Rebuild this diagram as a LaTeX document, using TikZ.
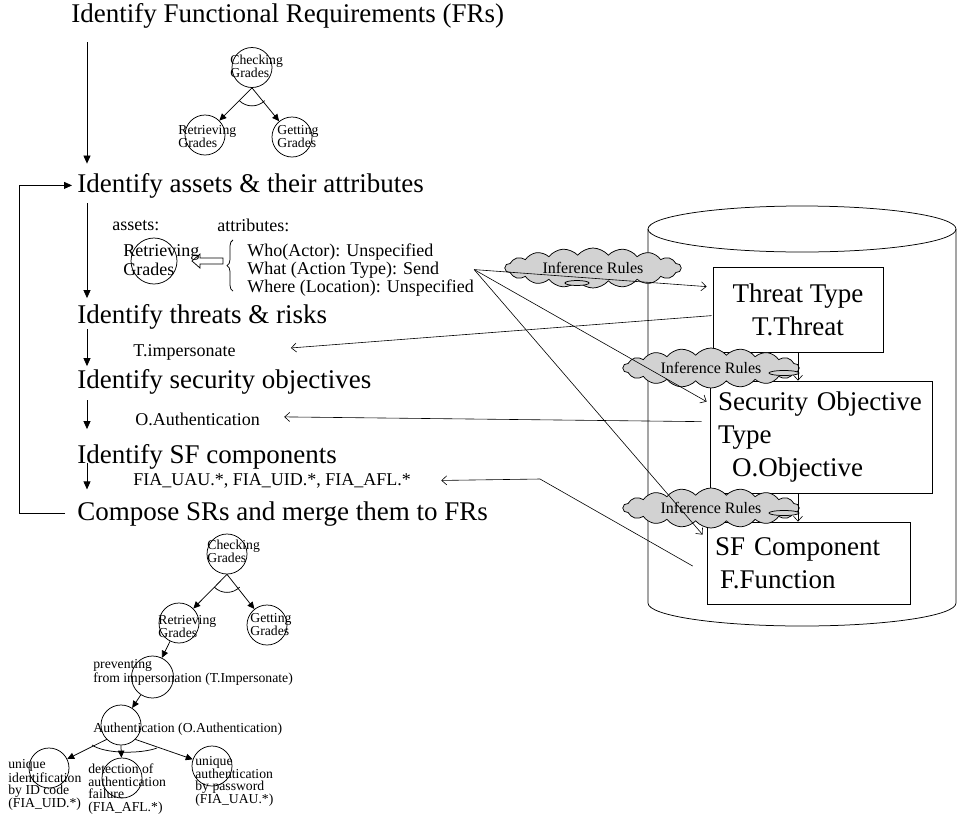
\documentclass[tikz,border=0pt]{standalone}
\usepackage{fontspec}
\setmainfont{Liberation Serif}
\usetikzlibrary{arrows.meta, calc, shapes.symbols, decorations.pathreplacing}

\begin{document}
\begin{tikzpicture}[
  x=1pt, y=-1pt, line width=0.75pt,
  stage/.style={anchor=base west, inner sep=0pt, font=\fontsize{27}{33}\selectfont},
  note/.style={anchor=base west, inner sep=0pt, align=left, font=\fontsize{18}{18}\selectfont},
  lbl/.style={anchor=base west, inner sep=0pt, align=left, font=\fontsize{13.7}{12.5}\selectfont},
  goal/.style={circle, draw, minimum size=40pt, inner sep=0pt},
  kind/.style={draw, fill=white, inner xsep=8pt, inner ysep=0pt, font=\fontsize{27}{33}\selectfont},
  rule/.style={cloud, cloud puffs=18, cloud puff arc=100, cloud ignores aspect, draw, fill=gray!35, inner sep=0pt,
    minimum width=176pt, minimum height=40pt, font=\fontsize{16}{16}\selectfont},
  down/.style={-{Triangle[length=8pt, width=7pt]}},
  tree/.style={-{Triangle[length=7pt, width=6.5pt]}},
  ptr/.style={-{Straight Barb[length=5pt, width=9pt]}, line width=0.6pt}
]
\useasboundingbox (0,0) rectangle (957,817);

% process steps
\node[stage] (fr) at (71,22) {Identify Functional Requirements (FRs)};
\node[stage] (assets) at (77,192) {Identify assets \& their attributes};
\node[stage] (threats) at (77,323) {Identify threats \& risks};
\node[stage] (objectives) at (77,388) {Identify security objectives};
\node[stage] (sfcomp) at (77,463) {Identify SF components};
\node[stage] (compose) at (77,520) {Compose SRs and merge them to FRs};

\coordinate (spine) at (87,0);
\draw[down, shorten <=14pt, shorten >=9pt] (fr.south -| spine) -- (assets.north -| spine);
\draw[down, shorten <=5pt, shorten >=5.5pt] (assets.south -| spine) -- (threats.north -| spine);
\draw[down, shorten >=2.5pt] (threats.south -| spine) -- (objectives.north -| spine);
\draw[down, shorten <=6pt, shorten >=14.5pt] (objectives.south -| spine) -- (sfcomp.north -| spine);
\draw[down, shorten >=11.5pt] (sfcomp.base -| spine) -- (compose.north -| spine);
\draw[down, shorten <=12pt, shorten >=5pt] (compose.west) -- ++(-58,0) |- (assets.west);

% FR goal tree
\node[goal] (chkA) at (252,67.5) {};
\node[goal] (retA) at (205,135) {};
\node[goal] (getA) at (292,137) {};
\node[lbl] (chkA-t) at (230,77) {Checking\\Grades};
\node[lbl] (retA-t) at (178,147) {Retrieving\\Grades};
\node[lbl] (getA-t) at (277,147) {Getting\\Grades};
\draw[tree] (chkA.south) -- (retA);
\draw[tree] (chkA.south) -- (getA);
\draw ($(chkA.south)+(225:18pt)$) arc[start angle=225, end angle=315, radius=18pt];

% assets and attributes
\node[note] (assets-l) at (112,230) {assets:};
\node[note] (attrs-l) at (217,231) {attributes:};
\node[goal, minimum size=46pt] (asset) at (154,261) {};
\node[lbl, font=\fontsize{18}{19}\selectfont] (asset-t) at (123,275) {Retrieving\\Grades};
\node[note] (attr) at (247,292) {Who(Actor): Unspecified\\What (Action Type): Send\\Where (Location): Unspecified};
\draw[decorate, decoration={brace, amplitude=6pt}] ($(attr.south west)+(-14,-5)$) -- ($(attr.north west)+(-14,-3)$);
\draw (192,261) -- (200,254) -- (200,258) -- (223,258) -- (223,264) -- (200,264) -- (200,268) -- cycle;

\node[note] (timp) at (133,356) {T.impersonate};
\node[note] (oauth) at (135,425) {O.Authentication};
\node[note] (fia) at (133,485) {FIA\_UAU.*, FIA\_UID.*, FIA\_AFL.*};

% repository
\draw (802,229) ellipse [x radius=154pt, y radius=23pt];
\draw (648,229) -- (648,603) arc[start angle=180, end angle=360, x radius=154pt, y radius=23pt] -- (956,229);

\node[kind, align=center, minimum width=170pt, minimum height=85pt] (threat) at (798,309.5) {Threat Type\\T.Threat};
\node[kind, align=left, text width=206pt, minimum height=112pt] (secobj) at (821,437) {Security Objective\\Type\\\hspace*{14pt}O.Objective};
\node[kind, align=left, text width=187pt, minimum height=82pt] (sf) at (808.5,563) {SF Component\\\hspace*{5pt}F.Function};

\node[rule] (ir1) at (593,268) {Inference Rules};
\node[rule] (ir2) at (711,368) {Inference Rules};
\node[rule] (ir3) at (711,508) {Inference Rules};
\filldraw[fill=gray!35] ($(ir1)+(-16,15)$) ellipse [x radius=12pt, y radius=2.5pt];
\filldraw[fill=gray!35] ($(ir2)+(73,5)$) ellipse [x radius=15pt, y radius=2.5pt];
\filldraw[fill=gray!35] ($(ir3)+(73,5)$) ellipse [x radius=15pt, y radius=2.5pt];

\draw[ptr] (threat.south) -- (threat.south |- secobj.north);
\draw[ptr] (threat.south |- secobj.south) -- (threat.south |- sf.north);

\draw[ptr] (attr.east) -- ($(threat.north west)+(-6,20)$);
\draw[ptr] (attr.east) -- ($(secobj.north west)+(-3,21)$);
\draw[ptr] (attr.east) -- ($(sf.north west)+(-4,13)$);
\draw[ptr] ($(threat.north west)+(-1,49)$) -- ($(timp.east)+(55,-4)$);
\draw[ptr] ($(secobj.north west)+(-8,41)$) -- ($(oauth.east)+(24,-2)$);
\coordinate (fiabend) at (540,479);
\draw[ptr] ($(sf.west)+(-14,3)$) -- (fiabend) -- ($(fia.east)+(30,0)$);

% SR goal tree
\node[goal] (chkB) at (227,554) {};
\node[goal] (retB) at (179,623) {};
\node[goal] (getB) at (267,625) {};
\node[goal, minimum size=42pt] (prevB) at (152.5,677) {};
\node[goal] (authB) at (121,725) {};
\node[goal] (uidB) at (49,768) {};
\node[goal] (aflB) at (122,778) {};
\node[goal] (uauB) at (212,766) {};
\node[lbl] (chkB-t) at (207,562) {Checking\\Grades};
\node[lbl] (retB-t) at (158,637) {Retrieving\\Grades};
\node[lbl] (getB-t) at (250,635) {Getting\\Grades};
\node[lbl] (prevB-t) at (93,682) {preventing\\from impersonation (T.Impersonate)};
\node[lbl] (authB-t) at (93,732) {Authentication (O.Authentication)};
\node[lbl] (uidB-t) at (8,807) {unique\\identification\\by ID code\\(FIA\_UID.*)};
\node[lbl] (aflB-t) at (88,811) {detection of\\authentication\\failure\\(FIA\_AFL.*)};
\node[lbl] (uauB-t) at (195,803) {unique\\authentication\\by password\\(FIA\_UAU.*)};

\draw[tree] (chkB.south) -- (retB);
\draw[tree] (chkB.south) -- (getB);
\draw ($(chkB.south)+(225:18pt)$) arc[start angle=225, end angle=315, radius=18pt];
\draw[tree] (retB) -- (prevB);
\draw[tree] (prevB) -- (authB);
\draw[tree] (authB.225) -- (uidB);
\draw[tree] (authB.south) -- (aflB);
\draw[tree] (authB.315) -- (uauB);
\draw ($(authB)+(-29,20)$) .. controls ($(authB)+(-16,29)$) and ($(authB)+(20,29)$) .. ($(authB)+(36,23)$);
\end{tikzpicture}
\end{document}
